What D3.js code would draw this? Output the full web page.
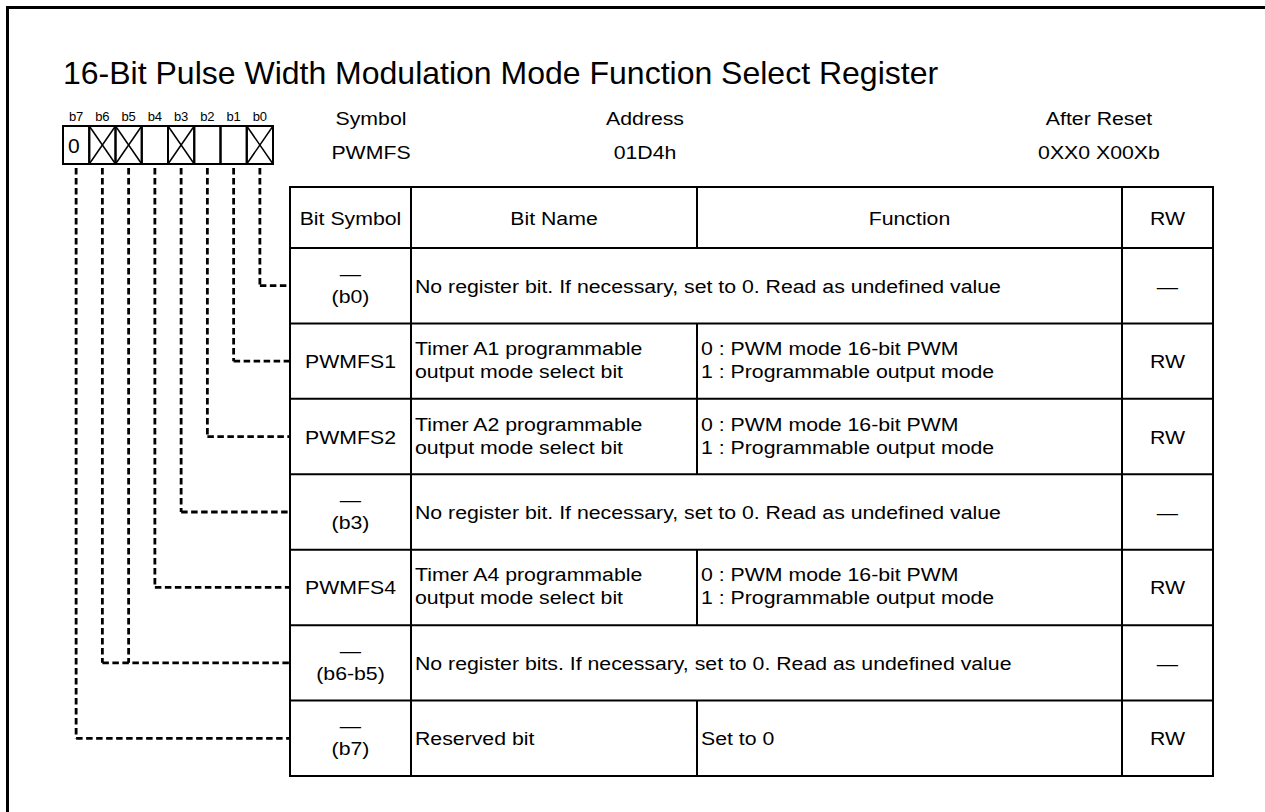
<!DOCTYPE html>
<html><head><meta charset="utf-8">
<script src="https://cdn.jsdelivr.net/npm/d3@7"></script>
<style>body{margin:0;background:#fff}svg{display:block;font-family:"Liberation Sans",Arial,sans-serif}text{fill:#000}</style>
</head><body>
<svg id="c" width="1265" height="812"></svg>
<script>
const title = "16-Bit Pulse Width Modulation Mode Function Select Register";
const bitLabels = ["b7","b6","b5","b4","b3","b2","b1","b0"];
const bitCells = ["0","X","X","","X","","","X"];
const infoLabels = ["Symbol","Address","After Reset"];
const infoValues = ["PWMFS","01D4h","0XX0 X00Xb"];
const headers = ["Bit Symbol","Bit Name","Function","RW"];
const rowSymbols = [["—","(b0)"],["PWMFS1"],["PWMFS2"],["—","(b3)"],["PWMFS4"],["—","(b6-b5)"],["—","(b7)"]];
const rowNames = [
  ["No register bit. If necessary, set to 0. Read as undefined value"],
  ["Timer A1 programmable","output mode select bit"],
  ["Timer A2 programmable","output mode select bit"],
  ["No register bit. If necessary, set to 0. Read as undefined value"],
  ["Timer A4 programmable","output mode select bit"],
  ["No register bits. If necessary, set to 0. Read as undefined value"],
  ["Reserved bit"]];
const rowFunctions = [null,
  ["0 : PWM mode 16-bit PWM","1 : Programmable output mode"],
  ["0 : PWM mode 16-bit PWM","1 : Programmable output mode"],
  null,
  ["0 : PWM mode 16-bit PWM","1 : Programmable output mode"],
  null,
  ["Set to 0"]];
const rowRW = ["—","RW","RW","—","RW","—","RW"];
const rowBits = [["b0"],["b1"],["b2"],["b3"],["b4"],["b6","b5"],["b7"]];

const svg = d3.select("#c");
const FS = 19, SX = 1.12;
function txt(x,y,s,size,anchor,sx){
  return svg.append("text").attr("transform",`translate(${x},${y}) scale(${sx||1},1)`)
    .attr("text-anchor",anchor||"start").attr("font-size",size).text(s);
}
// outer frame
svg.append("rect").attr("x",7.5).attr("y",7.5).attr("width",1300).attr("height",900)
  .attr("fill","none").attr("stroke","#000").attr("stroke-width",3);

txt(63,84,title,32,"start",1);

// bit box
const bx = d3.scaleBand().domain(bitLabels).range([63,273]);
const boxTop = 126, boxBot = 164;
bitLabels.forEach(d=>txt(bx(d)+bx.bandwidth()/2,121,d,13,"middle",1));
const cells = svg.selectAll(".cell").data(bitLabels).join("g");
cells.append("rect").attr("x",d=>bx(d)).attr("y",boxTop).attr("width",bx.bandwidth())
  .attr("height",boxBot-boxTop).attr("fill","none").attr("stroke","#000").attr("stroke-width",2);
cells.each(function(d,i){
  const g=d3.select(this), v=bitCells[i], x0=bx(d), x1=x0+bx.bandwidth();
  if(v==="X"){
    g.append("line").attr("x1",x0).attr("y1",boxTop).attr("x2",x1).attr("y2",boxBot).attr("stroke","#000").attr("stroke-width",1.5);
    g.append("line").attr("x1",x1).attr("y1",boxTop).attr("x2",x0).attr("y2",boxBot).attr("stroke","#000").attr("stroke-width",1.5);
  } else if(v){
    txt(x0+5,boxTop+27,v,21,"start",1);
  }
});

// info
const ixPos = {"Symbol":371,"Address":645,"After Reset":1099};
infoLabels.forEach((l,i)=>{
  txt(ixPos[l],125,l,FS,"middle",SX);
  txt(ixPos[l],159,infoValues[i],FS,"middle",SX);
});

// table
const colX = [290,411,697,1122,1213];
const headTop = 187, headBot = 248, tableBot = 776;
const ry = d3.scaleBand().domain(d3.range(rowSymbols.length)).range([headBot,tableBot]);
const T = svg.append("g").attr("stroke","#000").attr("stroke-width",2);
T.append("rect").attr("x",colX[0]).attr("y",headTop).attr("width",colX[4]-colX[0]).attr("height",tableBot-headTop).attr("fill","none");
T.append("line").attr("x1",colX[0]).attr("x2",colX[4]).attr("y1",headBot).attr("y2",headBot);
headers.forEach((h,i)=>{
  if(i>0) T.append("line").attr("x1",colX[i]).attr("x2",colX[i]).attr("y1",headTop).attr("y2",headBot);
  txt((colX[i]+colX[i+1])/2,(headTop+headBot)/2+7,h,FS,"middle",SX);
});
rowSymbols.forEach((s,i)=>{
  const y0 = ry(i), y1 = y0+ry.bandwidth(), mid=(y0+y1)/2;
  if(i>0) T.append("line").attr("x1",colX[0]).attr("x2",colX[4]).attr("y1",y0).attr("y2",y0);
  [1,3].forEach(c=>T.append("line").attr("x1",colX[c]).attr("x2",colX[c]).attr("y1",y0).attr("y2",y1));
  if(rowFunctions[i]) T.append("line").attr("x1",colX[2]).attr("x2",colX[2]).attr("y1",y0).attr("y2",y1);
  const ml = (lines,x,anchor)=>{
    const base = lines.length===1 ? [mid+7] : [mid-6, mid+17];
    lines.forEach((t,k)=>txt(x,base[k],t,FS,anchor,SX));
  };
  ml(s,(colX[0]+colX[1])/2,"middle");
  ml(rowNames[i],colX[1]+4,"start");
  if(rowFunctions[i]) ml(rowFunctions[i],colX[2]+4,"start");
  ml([rowRW[i]],(colX[3]+colX[4])/2,"middle");
});

// dashed leaders
const D = svg.append("g").attr("fill","none").attr("stroke","#000").attr("stroke-width",2.8).attr("stroke-dasharray","6.5,3.5");
rowBits.forEach((bits,i)=>{
  const mid = ry(i)+ry.bandwidth()/2;
  const xs = bits.map(b=>bx(b)+bx.bandwidth()/2);
  xs.forEach(x=>D.append("path").attr("d",`M${x},${boxBot+4}V${mid}`));
  D.append("path").attr("d",`M${d3.min(xs)},${mid}H${colX[0]}`);
});
</script>
</body></html>
